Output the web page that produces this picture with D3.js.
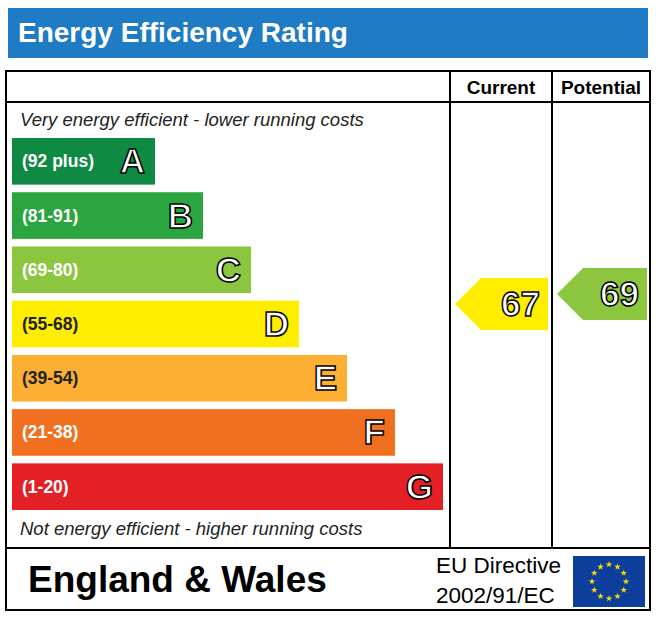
<!DOCTYPE html>
<html><head><meta charset="utf-8">
<script src="https://cdn.jsdelivr.net/npm/d3@7"></script>
<style>body{margin:0;background:#fff}</style>
</head><body>
<script>
const letters = ["A","B","C","D","E","F","G"];
const ranges = ["(92 plus)","(81-91)","(69-80)","(55-68)","(39-54)","(21-38)","(1-20)"];
const colors = ["#0f8a43","#2aa540","#8cc63e","#ffed00","#fbb033","#f1701f","#e41f26"];
const currentValue = 67, currentColor = "#ffed00";
const potentialValue = 69, potentialColor = "#8cc63e";

const W=656,H=620;
const svg=d3.select("body").append("svg").attr("width",W).attr("height",H);
const font="Liberation Sans, Arial, sans-serif";

svg.append("rect").attr("x",8).attr("y",8).attr("width",640).attr("height",50).attr("fill","#1f7bc4");
svg.append("text").attr("x",18).attr("y",42).attr("fill","#fff").attr("font-family",font).attr("font-weight","bold").attr("font-size",28).text("Energy Efficiency Rating");

const g=svg.append("g").attr("stroke","#000").attr("stroke-width",2).attr("fill","none");
g.append("rect").attr("x",6).attr("y",71).attr("width",644).attr("height",539);
g.append("line").attr("x1",6).attr("x2",650).attr("y1",102).attr("y2",102);
g.append("line").attr("x1",6).attr("x2",650).attr("y1",548).attr("y2",548);
g.append("line").attr("x1",450).attr("x2",450).attr("y1",71).attr("y2",548);
g.append("line").attr("x1",552).attr("x2",552).attr("y1",71).attr("y2",548);

svg.append("text").attr("x",501).attr("y",94).attr("text-anchor","middle").attr("font-family",font).attr("font-weight","bold").attr("font-size",19).text("Current");
svg.append("text").attr("x",601).attr("y",94).attr("text-anchor","middle").attr("font-family",font).attr("font-weight","bold").attr("font-size",19).text("Potential");

svg.append("text").attr("x",20).attr("y",126).attr("font-family",font).attr("font-style","italic").attr("font-size",18.5).attr("fill","#222").text("Very energy efficient - lower running costs");
svg.append("text").attr("x",20).attr("y",535).attr("font-family",font).attr("font-style","italic").attr("font-size",18.5).attr("fill","#222").text("Not energy efficient - higher running costs");

const y=d3.scaleBand().domain(letters).range([138,510]).paddingInner(0.14).paddingOuter(0);
const wScale=d3.scaleLinear().domain([0,6]).range([143,431]);
const bars=svg.selectAll(".bar").data(letters).enter().append("g");
bars.append("rect").attr("x",12).attr("y",d=>y(d)).attr("height",y.bandwidth()).attr("width",(d,i)=>wScale(i)).attr("fill",(d,i)=>colors[i]);
bars.append("text").attr("x",22).attr("y",d=>y(d)+y.bandwidth()/2+6).attr("font-family",font).attr("font-weight","bold").attr("font-size",17.5)
  .attr("fill",(d,i)=>(i==3||i==4)?"#222":"#fff").text((d,i)=>ranges[i]);
bars.append("text").attr("x",(d,i)=>12+wScale(i)-10).attr("y",d=>y(d)+y.bandwidth()/2+12).attr("text-anchor","end").attr("font-family",font).attr("font-weight","bold").attr("font-size",35)
  .attr("fill","#fff").attr("stroke","#000").attr("stroke-width",1.5).text(d=>d);

function drawArrow(xl,xr,yc,h,col,val){
  const p=[[xl,yc],[xl+h/2,yc-h/2],[xr,yc-h/2],[xr,yc+h/2],[xl+h/2,yc+h/2]];
  svg.append("path").attr("d",d3.line()(p)+"Z").attr("fill",col);
  svg.append("text").attr("x",xr-8).attr("y",yc+12).attr("text-anchor","end").attr("font-family",font).attr("font-weight","bold").attr("font-size",35)
    .attr("fill","#fff").attr("stroke","#000").attr("stroke-width",1.5).text(val);
}
drawArrow(455,548,304,52,currentColor,currentValue);
drawArrow(557,647,294,52,potentialColor,potentialValue);

svg.append("text").attr("x",28).attr("y",592).attr("font-family",font).attr("font-weight","bold").attr("font-size",37).text("England & Wales");
svg.append("text").attr("x",436).attr("y",573).attr("font-family",font).attr("font-size",22.5).text("EU Directive");
svg.append("text").attr("x",436).attr("y",603).attr("font-family",font).attr("font-size",22.5).text("2002/91/EC");
svg.append("rect").attr("x",573).attr("y",556).attr("width",72).attr("height",51).attr("fill","#0e3e9c");
const stars=d3.range(12).map(i=>i*Math.PI/6);
svg.selectAll(".st").data(stars).enter().append("path")
  .attr("d",d3.symbol().type(d3.symbolStar).size(14))
  .attr("transform",a=>`translate(${609+17*Math.cos(a)},${581.5+17*Math.sin(a)})`).attr("fill","#ffdd00");
</script>
</body></html>
